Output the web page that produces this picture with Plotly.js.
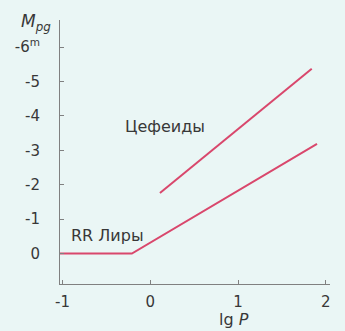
<!DOCTYPE html>
<html>
<head>
<meta charset="utf-8">
<script src="https://cdn.plot.ly/plotly-3.0.1.min.js"></script>
<style>html,body{margin:0;padding:0;background:#eaf6f5;}#chart{width:345px;height:331px;}</style>
</head>
<body>
<div id="chart"></div>
<script>
// RR Lyrae relation (lg P, M_pg)
var rrLgP = [-1.03, -0.21, 1.90];
var rrMag = [0, 0, -3.19];
// Cepheid relation
var cephLgP = [0.11, 1.84];
var cephMag = [-1.76, -5.37];
// Tick labels
var xTickVals = [-1, 0, 1, 2];
var xTickText = ['-1', '0', '1', '2'];
var yTickVals = [-6, -5, -4, -3, -2, -1, 0];
var yTickText = ['-6<sup>m</sup>', '-5', '-4', '-3', '-2', '-1', '0'];

var lineColor = '#d9476c';
var textColor = '#383838';
var axisColor = '#808080';
var fontFam = '"DejaVu Sans", sans-serif';

var data = [
  {x: rrLgP, y: rrMag, mode: 'lines', line: {color: lineColor, width: 2}, hoverinfo: 'skip'},
  {x: cephLgP, y: cephMag, mode: 'lines', line: {color: lineColor, width: 2}, hoverinfo: 'skip'}
];

var layout = {
  width: 345, height: 331,
  margin: {l: 60, r: 15, t: 20, b: 47, pad: 0},
  paper_bgcolor: '#eaf6f5', plot_bgcolor: '#eaf6f5',
  showlegend: false,
  font: {family: fontFam, color: textColor, size: 15},
  xaxis: {
    range: [-1.029, 2.048], showgrid: false, zeroline: false,
    showline: true, linecolor: axisColor, linewidth: 1,
    ticks: 'inside', ticklen: 4, tickcolor: axisColor,
    tickvals: xTickVals, ticktext: xTickText,
    ticklabelstandoff: 4,
    tickfont: {family: fontFam, size: 15, color: textColor}
  },
  yaxis: {
    range: [0.884, -6.79], showgrid: false, zeroline: false,
    showline: true, linecolor: axisColor, linewidth: 1,
    ticks: 'inside', ticklen: 4, tickcolor: axisColor,
    tickvals: yTickVals, ticktext: yTickText,
    ticklabelstandoff: 16,
    tickfont: {family: fontFam, size: 15, color: textColor}
  },
  annotations: [
    {x: 0.17, y: -3.68, xref: 'x', yref: 'y', text: 'Цефеиды', showarrow: false,
     font: {family: fontFam, size: 16, color: textColor}},
    {x: -0.49, y: -0.54, xref: 'x', yref: 'y', text: 'RR Лиры', showarrow: false,
     font: {family: fontFam, size: 16, color: textColor}},
    {x: 0, y: 0, xref: 'paper', yref: 'paper', text: '<i>M<sub>pg</sub></i>', showarrow: false,
     xanchor: 'center', yanchor: 'middle',
     font: {family: fontFam, size: 17, color: textColor}},
    {x: 0, y: 0, xref: 'paper', yref: 'paper', text: 'lg <i>P</i>', showarrow: false,
     xanchor: 'center', yanchor: 'middle',
     font: {family: fontFam, size: 16, color: textColor}}
  ]
};
// place the two axis-title annotations at their pixel spots, in paper coords
(function(){
  var pw = 345 - 60 - 15, ph = 331 - 20 - 47;
  layout.annotations[2].x = (36 - 60) / pw;
  layout.annotations[2].y = (331 - 47 - 23) / ph;
  layout.annotations[3].x = (234 - 60) / pw;
  layout.annotations[3].y = (331 - 47 - 319) / ph;
})();

Plotly.newPlot('chart', data, layout, {staticPlot: true, displayModeBar: false});
</script>
</body>
</html>
